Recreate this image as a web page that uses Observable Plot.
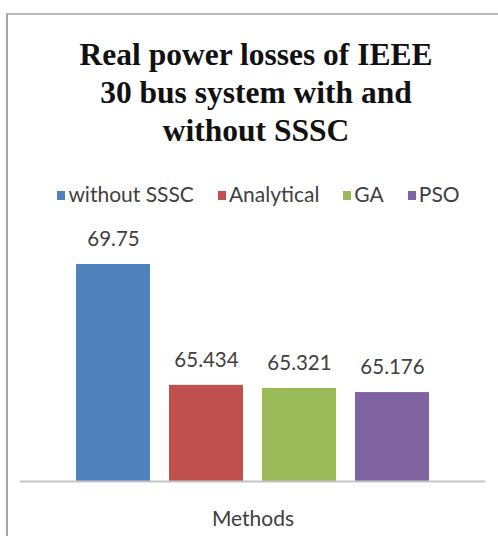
<!DOCTYPE html>
<html>
<head>
<meta charset="utf-8">
<script src="https://cdn.jsdelivr.net/npm/d3@7"></script>
<script src="https://cdn.jsdelivr.net/npm/@observablehq/plot@0.6"></script>
<style>
  html, body { margin: 0; padding: 0; background: #fff; }
  #chart { position: relative; width: 498px; height: 536px; overflow: hidden; background: #fff; }
  #frame { position: absolute; left: 6px; top: 13px; width: 520px; height: 560px;
           border-left: 2px solid #a6a6a6; border-top: 2px solid #b8b8b8; box-sizing: border-box; }
  #title { position: absolute; left: 0; width: 512px; top: 36px; text-align: center;
           font-family: "Liberation Serif", "Times New Roman", serif; font-weight: bold;
           font-size: 31.5px; line-height: 38px; color: #111; }
  #legend { position: absolute; left: 0; width: 517px; top: 181px; text-align: center;
            font-family: Lato, "Open Sans", sans-serif; font-size: 21px; color: #404040; white-space: nowrap; }
  #legend .item { display: inline-block; margin: 0 12px; }
  #legend .sw { display: inline-block; width: 8px; height: 9px; margin-right: 3px; vertical-align: 2px; }
  #caption { position: absolute; left: 0; width: 506px; top: 505px; text-align: center;
             font-family: Lato, "Open Sans", sans-serif; font-size: 21px; color: #404040; }
  #plot { position: absolute; left: 0; top: 0; }
  #plot svg { background: transparent; }
</style>
</head>
<body>
<div id="chart">
  <div id="plot"></div>
  <div id="frame"></div>
  <div id="title">Real power losses of IEEE<br>30 bus system with and<br>without SSSC</div>
  <div id="legend"></div>
  <div id="caption">Methods</div>
</div>
<script>
// Real power losses (MW) per method
const methods = ["without SSSC", "Analytical", "GA", "PSO"];
const losses = [69.75, 65.434, 65.321, 65.176];
const colors = ["#4f81bd", "#c0504d", "#9bbb59", "#8064a2"];

const data = methods.map((m, i) => ({method: m, loss: losses[i]}));

// legend
const legend = document.getElementById("legend");
methods.forEach((m, i) => {
  const item = document.createElement("span");
  item.className = "item";
  const sw = document.createElement("span");
  sw.className = "sw";
  sw.style.background = colors[i];
  item.appendChild(sw);
  item.appendChild(document.createTextNode(m));
  legend.appendChild(item);
});

const plot = Plot.plot({
  width: 498,
  height: 536,
  marginTop: 229,
  marginBottom: 55,
  marginLeft: 20,
  marginRight: 13,
  style: {background: "transparent"},
  x: {domain: methods, axis: null, paddingInner: 0.2, paddingOuter: 0.6},
  y: {domain: [62, 71], axis: null},
  color: {domain: methods, range: colors},
  marks: [
    Plot.barY(data, {x: "method", y1: 62, y2: "loss", fill: "method"}),
    Plot.ruleY([62], {stroke: "#c4c4c4", strokeWidth: 2}),
    Plot.text(data, {
      x: "method", y: "loss", text: d => String(d.loss), dy: -25,
      fontFamily: "Lato, 'Open Sans', sans-serif", fontSize: 20.5, fill: "#404040"
    })
  ]
});
document.getElementById("plot").appendChild(plot);
</script>
</body>
</html>
